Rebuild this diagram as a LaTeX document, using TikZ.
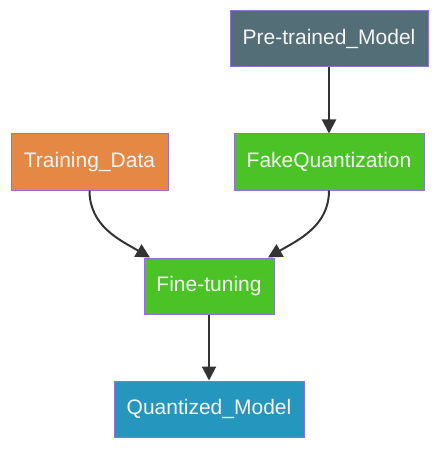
\documentclass[tikz,border=0pt]{standalone}
\usepackage{fontspec}
\setmainfont{Liberation Sans}
\usepackage{tikz}
\usetikzlibrary{arrows.meta,positioning}
\definecolor{slate}{HTML}{546E78}
\definecolor{orng}{HTML}{E48844}
\definecolor{grn}{HTML}{4BC225}
\definecolor{blu}{HTML}{2596BE}
\definecolor{edge}{HTML}{9370DB}
\definecolor{ink}{HTML}{333333}
\tikzstyle{box} = [rectangle,draw=edge,line width=1pt,text=white!96!black,minimum height=56pt,inner sep=0pt,font=\fontsize{21}{25}\selectfont]
\tikzset{>={Triangle[length=14pt,width=14pt]}}

\begin{document}
\begin{tikzpicture}[x=1pt,y=1pt]
    \useasboundingbox (0,0) rectangle (440,-449);
    \node [box,fill=slate,minimum width=198pt] (pretrained) at (329,-39) {Pre-trained\_Model};
    \node [box,fill=orng,minimum width=157pt] (trainingdata) at (89.5,-162) {Training\_Data};
    \node [box,fill=grn,minimum width=190pt] (fakequant) at (329,-162) {FakeQuantization};
    \node [box,fill=grn,minimum width=130pt] (finetuning) at (209,-286) {Fine-tuning};
    \node [box,fill=blu,minimum width=190pt] (quantmodel) at (209,-409) {Quantized\_Model};

    \draw [ink,line width=2pt,->] (pretrained) -- (fakequant);
    \draw [ink,line width=2pt,->] (trainingdata.south) to[out=-90,in=150] ([xshift=-59pt]finetuning.north);
    \draw [ink,line width=2pt,->] (fakequant.south) to[out=-90,in=30] ([xshift=59pt]finetuning.north);
    \draw [ink,line width=2pt,->] (finetuning) -- (quantmodel);
  \end{tikzpicture}
\end{document}
